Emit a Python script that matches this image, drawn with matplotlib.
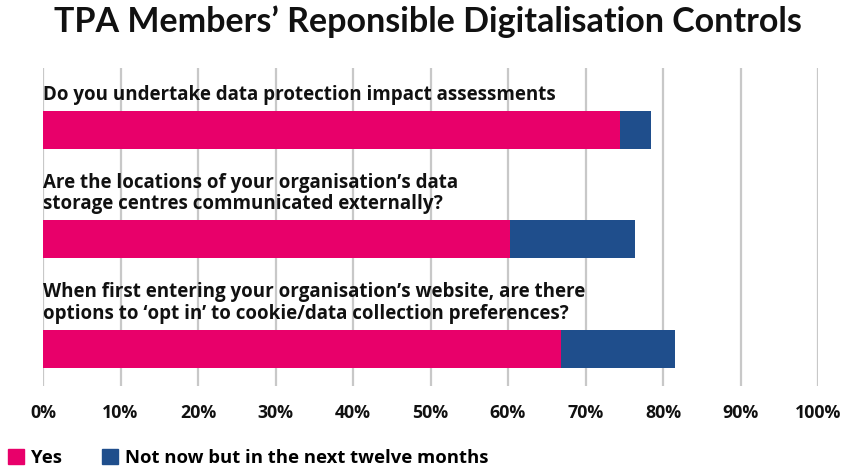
import matplotlib.pyplot as plt
from matplotlib.patches import Patch

plt.rcParams['font.family'] = ['Open Sans', 'DejaVu Sans']

questions = [
    "Do you undertake data protection impact assessments",
    "Are the locations of your organisation\u2019s data\nstorage centres communicated externally?",
    "When first entering your organisation\u2019s website, are there\noptions to \u2018opt in\u2019 to cookie/data collection preferences?",
]
yes = [74.5, 60.2, 66.9]
next_year = [3.9, 16.2, 14.7]
ticks = [0, 10, 20, 30, 40, 50, 60, 70, 80, 90, 100]

pink = "#E8006A"
blue = "#1F4E8C"

fig = plt.figure(figsize=(8.56, 4.70), dpi=100)
W, H = 856, 470
ax = fig.add_axes([43 / W, 1 - 386 / H, (818 - 43) / W, (386 - 68) / H])

pos = list(range(len(questions)))
bh = 0.347
ax.barh(pos, yes, height=bh, color=pink, zorder=3)
ax.barh(pos, next_year, left=yes, height=bh, color=blue, zorder=3)

for i, q in enumerate(questions):
    ax.text(0, i - bh / 2 - 0.055, q, ha="left", va="bottom",
            fontsize=13.5, fontweight="bold", color="#111111",
            linespacing=1.13, zorder=4)

ax.set_xlim(0, 100)
ax.set_ylim(2.338, -0.566)
ax.set_xticks(ticks)
ax.set_xticklabels([f"{t}%" for t in ticks], fontsize=12.8, fontweight="bold", color="#111111")
ax.set_yticks([])
ax.tick_params(axis="x", length=0, pad=13)
for s in ax.spines.values():
    s.set_visible(False)
ax.grid(axis="x", color="#c8c8c8", linewidth=1.6, zorder=0)

fig.text(0.5, 1 - 22 / H, "TPA Members\u2019 Reponsible Digitalisation Controls",
         ha="center", va="center", fontsize=24.5, fontweight="bold", color="#111111",
         family=["Lato", "DejaVu Sans"])

handles = [Patch(color=pink, label="Yes"),
           Patch(color=blue, label="Not now but in the next twelve months")]
fig.legend(handles=handles, loc="center left", bbox_to_anchor=(8 / W, 1 - 458 / H),
           ncol=2, frameon=False, borderpad=0, borderaxespad=0,
           handlelength=0.85, handleheight=0.85,
           handletextpad=0.4, columnspacing=2.15,
           prop={"weight": "bold", "size": 13.3})

fig.savefig("out.png", dpi=100)
